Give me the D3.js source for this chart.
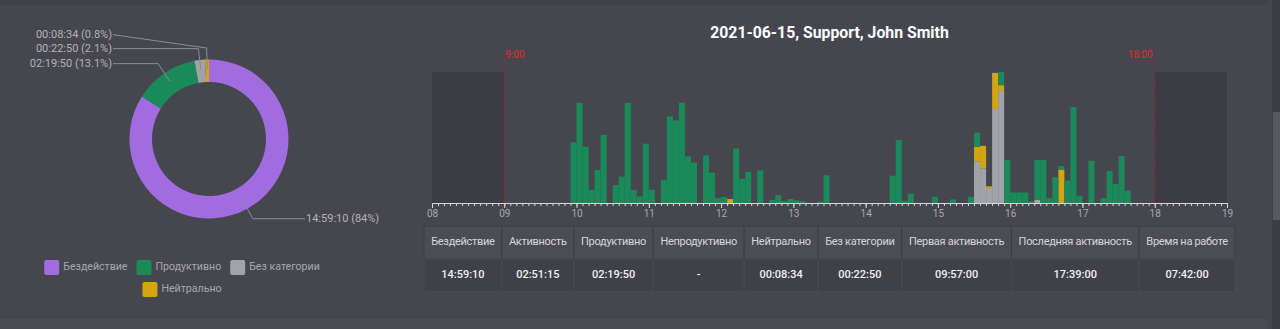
<!DOCTYPE html>
<html>
<head>
<meta charset="utf-8">
<script src="https://cdn.jsdelivr.net/npm/d3@7"></script>
<style>
html, body { margin: 0; padding: 0; background: #46464f; overflow: hidden; }
svg { display: block; font-family: Roboto, "Noto Sans", sans-serif; }
</style>
</head>
<body>
<div id="chart"></div>
<script>
// ---- donut: time per category (seconds)
const donutNames = ["Бездействие", "Продуктивно", "Без категории", "Нейтрально"];
const donutSeconds = [53950, 8390, 1370, 514];

// ---- timeline, 5 minute bins (only non empty bins listed)
const binStart = [
    "09:55",
    "10:00", "10:05", "10:10", "10:15", "10:20", "10:30", "10:35", "10:40", "10:45", "10:50", "10:55",
    "11:00", "11:10", "11:15", "11:20", "11:25", "11:30", "11:35", "11:45", "11:50", "11:55",
    "12:00", "12:05", "12:10", "12:15", "12:20", "12:30", "12:40", "12:45", "12:50", "12:55",
    "13:00", "13:05", "13:20", "13:25",
    "14:20", "14:25", "14:30", "14:35", "14:55",
    "15:10", "15:25", "15:30", "15:35", "15:40", "15:45", "15:50", "15:55",
    "16:00", "16:05", "16:10", "16:15", "16:20", "16:25", "16:30", "16:35", "16:40", "16:45", "16:50", "16:55",
    "17:05", "17:15", "17:20", "17:25", "17:30", "17:35"
];
const productive = [
    138,
    228, 128, 30, 75, 155, 41, 60, 228, 30, 15, 135,
    30, 52, 197, 188, 228, 106, 92, 108, 69, 11,
    14, 0, 124, 55, 71, 74, 7, 18, 5, 9,
    6, 4, 3, 63,
    62, 143, 5, 21, 14,
    8, 14, 32, 0, 0, 0, 30, 98,
    24, 24, 24, 4, 91, 98, 11, 59, 8, 51, 218, 16,
    96, 11, 73, 43, 107, 28
];
const neutral = [
    0,
    0, 0, 0, 0, 0, 0, 0, 0, 0, 0, 0,
    0, 0, 0, 0, 0, 0, 0, 0, 0, 0,
    0, 9, 0, 0, 0, 0, 0, 0, 0, 0,
    0, 0, 0, 0,
    0, 0, 0, 0, 0,
    0, 0, 33, 51, 4, 82, 13, 0,
    0, 0, 0, 0, 0, 0, 0, 0, 76, 0, 0, 0,
    0, 0, 0, 0, 0, 0
];
const uncategorized = [
    0,
    0, 0, 0, 0, 0, 0, 0, 0, 0, 0, 0,
    0, 0, 0, 0, 0, 0, 0, 0, 0, 0,
    0, 0, 0, 0, 0, 0, 0, 0, 0, 0,
    0, 0, 0, 0,
    0, 0, 0, 0, 0,
    0, 0, 95, 79, 34, 214, 255, 0,
    0, 0, 0, 0, 7, 0, 0, 0, 0, 0, 0, 0,
    0, 0, 0, 0, 0, 0
];
const dayStart = "08:00", dayEnd = "19:00";
const offHours = [["08:00", "09:00"], ["18:00", "19:00"]];
const workMarks = [["09:00", "9:00"], ["18:00", "18:00"]];
const title = "2021-06-15, Support, John Smith";

// ---- summary table
const tableHeaders = ["Бездействие", "Активность", "Продуктивно", "Непродуктивно", "Нейтрально",
    "Без категории", "Первая активность", "Последняя активность", "Время на работе"];
const tableValues = ["14:59:10", "02:51:15", "02:19:50", "-", "00:08:34", "00:22:50", "09:57:00", "17:39:00", "07:42:00"];

(function worktime_chart() {
    // ---- styles
    const colors = {
        "Бездействие": "#a06ce0",
        "Продуктивно": "#1b8a5a",
        "Без категории": "#a2a2a9",
        "Нейтрально": "#d2a511"
    };
    const barColors = { productive: "#1b8a5a", neutral: "#d2a511", uncategorized: "#a2a2a9" };

    const width = 1280, height = 329;
    const svg = d3.select("#chart").append("svg")
        .attr("width", width)
        .attr("height", height);

    // page background, bands and scrollbar
    svg.append("rect").attr("width", width).attr("height", height).attr("fill", "#46464f");
    svg.append("rect").attr("width", 1268).attr("height", 5).attr("fill", "#414149");
    svg.append("rect").attr("y", 319).attr("width", 1268).attr("height", 10).attr("fill", "#4b4b54");
    svg.append("rect").attr("x", 1272).attr("width", 8).attr("height", height).attr("fill", "#3d3d45");
    svg.append("rect").attr("x", 1273).attr("y", 112).attr("width", 7).attr("height", 108).attr("fill", "#585861");

    // ================= donut
    const cx = 209, cy = 139, rIn = 57, rOut = 79.5;
    const total = d3.sum(donutSeconds);
    const pie = d3.pie().sort(null).value(d => d)(donutSeconds);
    const arc = d3.arc().innerRadius(rIn).outerRadius(rOut);

    const donut = svg.append("g").attr("transform", `translate(${cx},${cy})`);
    donut.selectAll("path")
        .data(pie)
        .join("path")
        .attr("d", arc)
        .attr("fill", (d, i) => colors[donutNames[i]]);

    const pad2 = n => String(n).padStart(2, "0");
    const hms = s => pad2(Math.floor(s / 3600)) + ":" + pad2(Math.floor(s % 3600 / 60)) + ":" + pad2(s % 60);
    const pct = v => +(v / total * 100).toFixed(1);
    const polar = (a, r) => [Math.sin(a) * r, -Math.cos(a) * r];

    let labels = pie.map((d, i) => {
        const a = (d.startAngle + d.endAngle) / 2;
        const p1 = polar(a, 91);
        return {
            p0: polar(a, 70),
            p1: p1,
            right: a < Math.PI,
            y: p1[1],
            text: hms(donutSeconds[i]) + " (" + pct(donutSeconds[i]) + "%)"
        };
    });
    // push overlapping labels on the left side upward
    let left = labels.filter(l => !l.right).sort((a, b) => b.y - a.y);
    left.forEach((l, k) => { if (k > 0) l.y = Math.min(l.y, left[k - 1].y - 14); });

    donut.selectAll("polyline")
        .data(labels)
        .join("polyline")
        .attr("points", l => [l.p0, l.p1, [l.right ? 96 : -96, l.y]].map(p => p.join(",")).join(" "))
        .attr("fill", "none")
        .attr("stroke", "#8c8c92")
        .attr("stroke-width", 1);

    donut.selectAll("text")
        .data(labels)
        .join("text")
        .attr("x", l => l.right ? 97 : -97)
        .attr("y", l => l.y)
        .attr("text-anchor", l => l.right ? "start" : "end")
        .attr("dominant-baseline", "middle")
        .attr("fill", "#b2b2b6")
        .attr("font-size", 11)
        .text(l => l.text);

    // legend, wrapped rows centred under the donut
    const legend = svg.append("g");
    const items = donutNames.map(name => {
        const g = legend.append("g");
        g.append("rect").attr("width", 15).attr("height", 15).attr("rx", 2).attr("fill", colors[name]);
        const t = g.append("text").attr("x", 19).attr("y", 7.5)
            .attr("dominant-baseline", "middle")
            .attr("fill", "#a8a8ac")
            .attr("font-size", 10.6)
            .text(name);
        return { g, w: 19 + t.node().getComputedTextLength() };
    });
    let legendRows = [[]], rowW = 0;
    items.forEach(it => {
        if (rowW > 0 && rowW + 9 + it.w > 290) { legendRows.push([]); rowW = 0; }
        legendRows[legendRows.length - 1].push(it);
        rowW += (rowW > 0 ? 9 : 0) + it.w;
    });
    legendRows.forEach((row, r) => {
        const rw = d3.sum(row, d => d.w) + 9 * (row.length - 1);
        let xx = 182 - rw / 2;
        row.forEach(it => {
            it.g.attr("transform", `translate(${xx},${260 + r * 22})`);
            xx += it.w + 9;
        });
    });

    // ================= timeline
    const parse = d3.timeParse("%Y-%m-%d %H:%M");
    const at = s => parse("2021-06-15 " + s);
    const base = 203, plotTop = 72;

    const x = d3.scaleTime()
        .domain([at(dayStart), at(dayEnd)])
        .range([432, 1227]);

    const rows = binStart.map((s, i) => ({
        start: at(s),
        productive: productive[i],
        neutral: neutral[i],
        uncategorized: uncategorized[i]
    }));
    const series = d3.stack().keys(["uncategorized", "neutral", "productive"])(rows);

    const y = d3.scaleLinear()
        .domain([0, d3.max(rows, d => d.productive + d.neutral + d.uncategorized)])
        .range([base, plotTop]);

    svg.append("text")
        .attr("x", (x.range()[0] + x.range()[1]) / 2)
        .attr("y", 34)
        .attr("text-anchor", "middle")
        .attr("dominant-baseline", "middle")
        .attr("fill", "#ffffff")
        .attr("font-size", 15.8)
        .attr("font-weight", "bold")
        .text(title);

    // off hours shading
    svg.append("g").selectAll("rect")
        .data(offHours)
        .join("rect")
        .attr("x", d => x(at(d[0])))
        .attr("width", d => x(at(d[1])) - x(at(d[0])))
        .attr("y", plotTop)
        .attr("height", base - plotTop)
        .attr("fill", "#3c3c44");

    // stacked bars
    svg.append("g")
        .selectAll("g")
        .data(series)
        .join("g")
        .attr("fill", d => barColors[d.key])
        .selectAll("rect")
        .data(d => d)
        .join("rect")
        .attr("x", d => x(d.data.start))
        .attr("width", d => x(d3.timeMinute.offset(d.data.start, 5)) - x(d.data.start))
        .attr("y", d => y(d[1]))
        .attr("height", d => y(d[0]) - y(d[1]));

    // work day marks
    const marks = svg.append("g").selectAll("g").data(workMarks).join("g");
    marks.append("line")
        .attr("x1", d => x(at(d[0])))
        .attr("x2", d => x(at(d[0])))
        .attr("y1", 60)
        .attr("y2", base)
        .attr("stroke", "#9a2a2e")
        .attr("stroke-width", 1)
        .attr("stroke-dasharray", "3,2");
    marks.append("text")
        .attr("x", (d, i) => x(at(d[0])) + (i === 0 ? 1 : -2))
        .attr("y", 55)
        .attr("text-anchor", (d, i) => i === 0 ? "start" : "end")
        .attr("dominant-baseline", "middle")
        .attr("fill", "#e0292c")
        .attr("font-size", 10)
        .text(d => d[1]);

    // axes
    const minorAxis = svg.append("g")
        .attr("transform", `translate(0,${base})`)
        .call(d3.axisBottom(x)
            .ticks(d3.timeMinute.every(5))
            .tickSize(3)
            .tickSizeOuter(0)
            .tickFormat(""));
    const hourAxis = svg.append("g")
        .attr("transform", `translate(0,${base})`)
        .call(d3.axisBottom(x)
            .ticks(d3.timeHour.every(1))
            .tickSize(5)
            .tickPadding(2)
            .tickSizeOuter(0)
            .tickFormat(d3.timeFormat("%H")));
    [minorAxis, hourAxis].forEach(a => {
        a.select(".domain").attr("stroke", "#d8d8dc");
        a.selectAll(".tick line").attr("stroke", "#d8d8dc");
    });
    hourAxis.selectAll(".tick text")
        .attr("fill", "#a8a8ac")
        .attr("font-size", 10)
        .attr("font-family", "Roboto, sans-serif");

    // ================= table
    const tableX = 424, tableW = 811, tableY = 226, rowH = 33;
    const table = svg.append("g");
    const probe = table.append("text").attr("font-size", 11).attr("letter-spacing", -0.3);
    const textW = tableHeaders.map(h => probe.text(h).node().getComputedTextLength());
    probe.remove();
    const extra = (tableW - d3.sum(textW)) / tableHeaders.length;
    const colW = textW.map(w => w + extra);
    const colX = colW.map((w, i) => tableX + d3.sum(colW.slice(0, i)));

    const cells = table.selectAll("g").data(tableHeaders).join("g")
        .attr("transform", (d, i) => `translate(${colX[i]},${tableY})`);
    cells.append("rect")
        .attr("width", (d, i) => colW[i])
        .attr("height", rowH)
        .attr("fill", "#4c4c55")
        .attr("stroke", "#3d3d45")
        .attr("stroke-width", 1);
    cells.append("rect")
        .attr("y", rowH)
        .attr("width", (d, i) => colW[i])
        .attr("height", rowH)
        .attr("fill", "#404048")
        .attr("stroke", "#4a4a52")
        .attr("stroke-width", 1);
    cells.append("text")
        .attr("x", (d, i) => colW[i] / 2)
        .attr("y", rowH / 2)
        .attr("text-anchor", "middle")
        .attr("dominant-baseline", "middle")
        .attr("fill", "#d6d6da")
        .attr("font-size", 11)
        .attr("letter-spacing", -0.3)
        .text(d => d);
    cells.append("text")
        .attr("x", (d, i) => colW[i] / 2)
        .attr("y", rowH * 1.5)
        .attr("text-anchor", "middle")
        .attr("dominant-baseline", "middle")
        .attr("fill", "#f0f0f2")
        .attr("font-size", 11)
        .attr("font-weight", 500)
        .text((d, i) => tableValues[i]);
})();
</script>
</body>
</html>
